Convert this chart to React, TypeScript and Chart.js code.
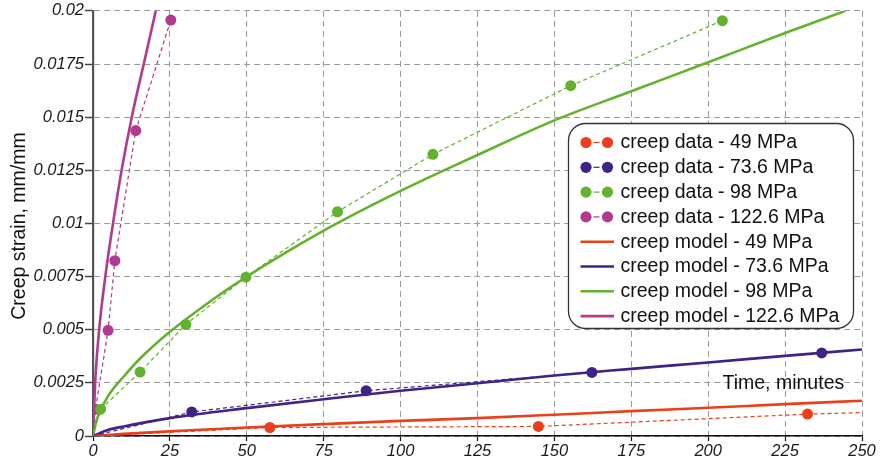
import React, { useEffect, useRef } from "react";
import { Chart, registerables } from "chart.js";

Chart.register(...registerables);

// ---- data ----
const xTicksMax = 250;
const yTicksMax = 0.02;

const data49Time = [0, 57.5, 144.8, 232.3, 300];
const data49Strain = [0, 0.0004, 0.00045, 0.00103, 0.0013];

const data736Time = [0, 32.1, 88.8, 162.2, 236.9];
const data736Strain = [0, 0.00113, 0.00213, 0.00299, 0.00391];

const data98Time = [0, 2.5, 15.3, 30.2, 49.7, 79.5, 110.5, 155.3, 204.6];
const data98Strain = [0, 0.00126, 0.00301, 0.00525, 0.00747, 0.01055, 0.01325, 0.01648, 0.01954];

const data1226Time = [0, 0.8, 4.9, 7.1, 13.9, 25.3];
const data1226Strain = [0, 0.00126, 0.00497, 0.00825, 0.01437, 0.01957];

const model49Time = [0, 10, 25, 50, 75, 100, 125, 150, 175, 200, 225, 250];
const model49Strain = [0, 0.0001, 0.00022, 0.0004, 0.00056, 0.00071, 0.00084, 0.001, 0.00117, 0.00133, 0.0015, 0.00166];

const model736Time = [0, 5, 10, 25, 50, 75, 100, 125, 150, 175, 200, 225, 250];
const model736Strain = [0, 0.00029, 0.00045, 0.00084, 0.00131, 0.00173, 0.00213, 0.00248, 0.00285, 0.00316, 0.00346, 0.00377, 0.00407];

const model98Time = [0, 1, 2.5, 5, 10, 15, 25, 40.7, 50, 75, 100, 125, 150, 175, 200, 225, 244.6];
const model98Strain = [0, 0.00066, 0.00122, 0.0019, 0.0028, 0.0036, 0.0049, 0.0066, 0.0075, 0.00966, 0.01153, 0.01322, 0.01485, 0.01622, 0.01758, 0.01896, 0.02];

const model1226Time = [0, 0.7, 2.0, 4.0, 6.5, 9.3, 12.6, 16.5, 20.4];
const model1226Strain = [0, 0.0025, 0.005, 0.0075, 0.01, 0.0125, 0.015, 0.0175, 0.02];

const legendLabels = [
  "creep data - 49 MPa",
  "creep data - 73.6 MPa",
  "creep data - 98 MPa",
  "creep data - 122.6 MPa",
  "creep model - 49 MPa",
  "creep model - 73.6 MPa",
  "creep model - 98 MPa",
  "creep model - 122.6 MPa",
];

const xTitle = "Time, minutes";
const yTitle = "Creep strain, mm/mm";

// ---- styles ----
const RED = "#ea3f1a";
const PURPLE = "#3f2386";
const GREEN = "#63b22e";
const MAGENTA = "#b03a8f";
const FONT = "'Liberation Sans', Arial, sans-serif";

const zip = (t: number[], s: number[]) => t.map((x, i) => ({ x, y: s[i] }));

function dataSet(label: string, t: number[], s: number[], color: string) {
  return {
    label,
    data: zip(t, s),
    showLine: true,
    borderColor: color,
    backgroundColor: color,
    borderWidth: 1.2,
    borderDash: [4, 3],
    pointRadius: t.map((x) => (x === 0 ? 0 : 5.5)),
    pointHoverRadius: 0,
    pointBorderWidth: 0,
    tension: 0,
    legendKind: "data",
  };
}

function modelSet(label: string, t: number[], s: number[], color: string) {
  return {
    label,
    data: zip(t, s),
    showLine: true,
    borderColor: color,
    backgroundColor: color,
    borderWidth: 2.6,
    pointRadius: 0,
    pointHoverRadius: 0,
    cubicInterpolationMode: "monotone",
    legendKind: "model",
  };
}

const boxLegendPlugin = {
  id: "boxLegend",
  afterDraw(chart: any) {
    const ctx = chart.ctx as CanvasRenderingContext2D;
    ctx.save();
    const bx = 568.5, by = 123.5, bw = 285, bh = 205, br = 17;
    ctx.beginPath();
    ctx.roundRect(bx, by, bw, bh, br);
    ctx.fillStyle = "#ffffff";
    ctx.fill();
    ctx.lineWidth = 1.3;
    ctx.strokeStyle = "#333333";
    ctx.stroke();

    ctx.font = `19.5px ${FONT}`;
    ctx.textBaseline = "middle";
    ctx.textAlign = "left";
    chart.data.datasets.forEach((ds: any, i: number) => {
      const cy = 142.5 + i * 24.8;
      const color = ds.borderColor;
      if (ds.legendKind === "data") {
        ctx.fillStyle = color;
        ctx.beginPath();
        ctx.arc(586, cy, 5.6, 0, Math.PI * 2);
        ctx.fill();
        ctx.beginPath();
        ctx.arc(607.5, cy, 5.6, 0, Math.PI * 2);
        ctx.fill();
        ctx.strokeStyle = color;
        ctx.lineWidth = 1.2;
        ctx.beginPath();
        ctx.moveTo(593.5, cy);
        ctx.lineTo(599.5, cy);
        ctx.stroke();
      } else {
        ctx.strokeStyle = color;
        ctx.lineWidth = 2.6;
        ctx.beginPath();
        ctx.moveTo(580.5, cy);
        ctx.lineTo(614, cy);
        ctx.stroke();
      }
      ctx.fillStyle = "#111111";
      ctx.fillText(ds.label, 620.5, cy + 0.5);
    });

    // axis titles
    ctx.fillStyle = "#111111";
    ctx.font = `19.5px ${FONT}`;
    ctx.textBaseline = "alphabetic";
    ctx.textAlign = "left";
    ctx.fillText(xTitle, 722.5, 388.5);

    ctx.translate(24.5, 226);
    ctx.rotate(-Math.PI / 2);
    ctx.textAlign = "center";
    ctx.fillText(yTitle, 0, 0);
    ctx.restore();
  },
};

export default function App() {
  const canvasRef = useRef<HTMLCanvasElement | null>(null);

  useEffect(() => {
    if (!canvasRef.current) return;
    const datasets: any[] = [
      dataSet(legendLabels[0], data49Time, data49Strain, RED),
      dataSet(legendLabels[1], data736Time, data736Strain, PURPLE),
      dataSet(legendLabels[2], data98Time, data98Strain, GREEN),
      dataSet(legendLabels[3], data1226Time, data1226Strain, MAGENTA),
      modelSet(legendLabels[4], model49Time, model49Strain, RED),
      modelSet(legendLabels[5], model736Time, model736Strain, PURPLE),
      modelSet(legendLabels[6], model98Time, model98Strain, GREEN),
      modelSet(legendLabels[7], model1226Time, model1226Strain, MAGENTA),
    ];
    const chart = new Chart(canvasRef.current, {
      type: "scatter",
      data: { datasets },
      plugins: [boxLegendPlugin],
      options: {
        animation: false,
        responsive: false,
        events: [],
        layout: { padding: { top: 9, right: 18, left: 0, bottom: 0 } },
        plugins: { legend: { display: false }, tooltip: { enabled: false } },
        scales: {
          x: {
            type: "linear",
            min: 0,
            max: xTicksMax,
            afterFit: (s: any) => {
              s.height = 30;
            },
            ticks: {
              stepSize: 25,
              padding: 1,
              color: "#1a1a1a",
              font: { family: FONT, size: 16.5, style: "italic" },
              maxRotation: 0,
            },
            grid: {
              color: "#9a9a9a",
              lineWidth: 1,
              tickLength: 5,
              tickColor: "#111111",
              tickWidth: 1.2,
              tickBorderDash: [],
            },
            border: { display: true, color: "#111111", width: 1.6, dash: [6, 4] },
          },
          y: {
            type: "linear",
            min: 0,
            max: yTicksMax,
            afterFit: (s: any) => {
              s.width = 93;
            },
            ticks: {
              stepSize: 0.0025,
              padding: 1,
              color: "#1a1a1a",
              font: { family: FONT, size: 16.5, style: "italic" },
              callback: (v: any) => String(Number(Number(v).toFixed(5))),
            },
            grid: {
              color: "#9a9a9a",
              lineWidth: 1,
              tickLength: 8,
              tickColor: "#444444",
              tickWidth: 1.5,
              tickBorderDash: [],
            },
            border: { display: true, color: "#555555", width: 2.2, dash: [6, 4] },
          },
        },
      } as any,
    });
    return () => chart.destroy();
  }, []);

  return (
    <div style={{ position: "fixed", left: 0, top: 0, width: 880, height: 466, background: "#fff" }}>
      <canvas ref={canvasRef} width={880} height={466} />
    </div>
  );
}
